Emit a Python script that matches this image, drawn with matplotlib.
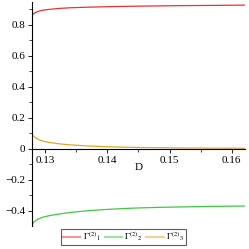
import matplotlib.pyplot as plt
import numpy as np
from matplotlib.ticker import MultipleLocator, FuncFormatter
from matplotlib.transforms import blended_transform_factory

# values
D = [0.1279, 0.1282, 0.1286, 0.129, 0.1296, 0.1305, 0.132, 0.134, 0.137,
     0.14, 0.144, 0.148, 0.152, 0.156, 0.162]
gamma1 = [0.862, 0.874, 0.882, 0.888, 0.894, 0.899, 0.905, 0.910, 0.914,
          0.917, 0.920, 0.922, 0.924, 0.925, 0.927]
gamma2 = [-0.492, -0.472, -0.459, -0.450, -0.441, -0.432, -0.421, -0.410,
          -0.398, -0.390, -0.382, -0.377, -0.374, -0.371, -0.368]
gamma3 = [0.095, 0.080, 0.068, 0.060, 0.051, 0.043, 0.034, 0.026, 0.019,
          0.014, 0.010, 0.008, 0.006, 0.005, 0.004]
labels = [r'$\Gamma^{(2)}{}_{1}$', r'$\Gamma^{(2)}{}_{2}$', r'$\Gamma^{(2)}{}_{3}$']
colors = ['#ee3030', '#40c840', '#e0a828']

plt.rcParams['font.family'] = ['Liberation Serif', 'DejaVu Serif']
plt.rcParams['mathtext.fontset'] = 'stix'

fig = plt.figure(figsize=(2.49, 2.49), dpi=100)
ax = fig.add_axes([0.1285, 0.0924, 0.855, 0.9])

for y, lab, c in zip([gamma1, gamma2, gamma3], labels, colors):
    ax.plot(D, y, color=c, lw=0.9, label=lab)

ax.set_xlim(0.1279, 0.1621)
ax.set_ylim(-0.497, 0.948)

ax.spines['top'].set_visible(False)
ax.spines['right'].set_visible(False)
ax.spines['bottom'].set_position(('data', 0))
for s in ['left', 'bottom']:
    ax.spines[s].set_linewidth(0.8)

ax.xaxis.set_major_locator(MultipleLocator(0.01))
ax.xaxis.set_minor_locator(MultipleLocator(0.005))
ax.yaxis.set_major_locator(MultipleLocator(0.2))
ax.yaxis.set_minor_locator(MultipleLocator(0.1))

def fmt(v, pos):
    if abs(v) < 1e-9:
        return '0'
    return ('%g' % round(v, 3)).replace('-', '\u2212')

ax.xaxis.set_major_formatter(FuncFormatter(fmt))
ax.yaxis.set_major_formatter(FuncFormatter(fmt))
ax.tick_params(which='major', length=3, width=0.6, labelsize=8, pad=2)
ax.tick_params(which='minor', length=2, width=0.5)

tr = blended_transform_factory(ax.transAxes, ax.transData)
ax.text(0.5, -0.12, 'D', transform=tr, ha='center', va='center', fontsize=8)

leg = fig.legend(loc='center', bbox_to_anchor=(0.497, 0.048), ncol=3,
                 fontsize=6.5, frameon=True, fancybox=False, handlelength=1.9,
                 handletextpad=0.3, columnspacing=0.4, borderpad=0.2,
                 borderaxespad=0)
leg.get_frame().set_edgecolor('#333333')
leg.get_frame().set_linewidth(0.8)
for line in leg.get_lines():
    line.set_alpha(0.5)
    line.set_linewidth(1.5)

fig.savefig('out.png', dpi=100)
